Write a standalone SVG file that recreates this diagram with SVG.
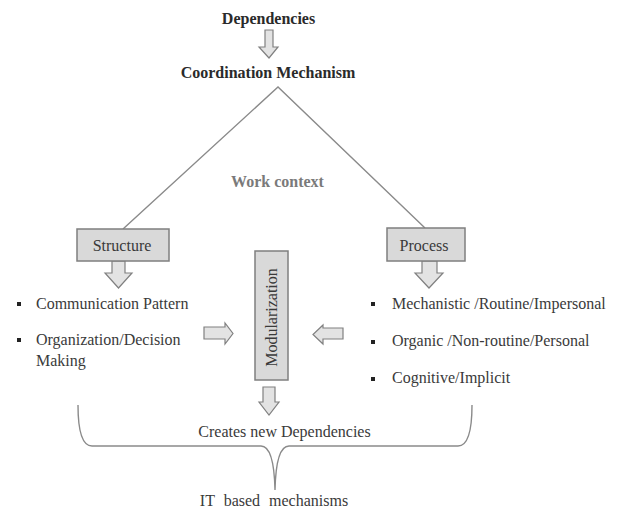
<svg xmlns="http://www.w3.org/2000/svg" width="617" height="510" viewBox="0 0 617 510">
  <style>
    text { font-family: "Liberation Serif", "Times New Roman", serif; font-size: 16px; fill: #3a3a3a; }
    .bold { font-weight: bold; fill: #2a2a2a; }
    .ctx { font-weight: bold; fill: #7a7a7a; }
    .box { fill: #d9d9d9; stroke: #7f7f7f; stroke-width: 1.5; }
    .arrow { fill: #e3e3e3; stroke: #808080; stroke-width: 1.2; stroke-linejoin: miter; }
    .line { fill: none; stroke: #8a8a8a; stroke-width: 1.4; }
    .bullet { fill: #222; }
  </style>
  <rect width="617" height="510" fill="#ffffff"/>

  <!-- connectors -->
  <g id="connectors">
    <path class="arrow" d="M265,30 H273 V47 H278 L269,58 L259,47 H265 Z"/>
    <polyline class="line" points="123,229 278,87 425,228"/>
    <path class="arrow" d="M112,261 H125 V273 H132 L118.5,288 L105,273 H112 Z"/>
    <path class="arrow" d="M422,261 H437 V273 H443 L429,288 L415,273 H422 Z"/>
    <path class="arrow" d="M204,327 H225 V323 L233,333.5 L225,344 V339 H204 Z"/>
    <path class="arrow" d="M343,328 V339 H323 V344 L313,334.5 L323,325 V328 Z"/>
    <path class="arrow" d="M263,387 H275 V402 H279 L269,415 L259,402 H263 Z"/>
    <path class="line" stroke="#9a9a9a" d="M78,405 Q78,446 92,446 L261,446 Q274,446 275,490 Q276,446 289,446 L458,446 Q472,446 472,405"/>
  </g>

  <g id="dependencies">
    <text class="bold" x="268.5" y="24" text-anchor="middle">Dependencies</text>
  </g>
  <g id="coordination">
    <text class="bold" x="268" y="78" text-anchor="middle">Coordination Mechanism</text>
  </g>
  <g id="work-context">
    <text class="ctx" x="277.5" y="187" text-anchor="middle">Work context</text>
  </g>

  <g id="structure">
    <rect class="box" x="77" y="229" width="92" height="32"/>
    <text x="122" y="251" text-anchor="middle">Structure</text>
  </g>
  <g id="process">
    <rect class="box" x="387" y="228" width="78" height="33"/>
    <text x="424" y="251" text-anchor="middle">Process</text>
  </g>

  <g id="structure-items">
    <rect class="bullet" x="17" y="302" width="4" height="4"/>
    <text x="36" y="309">Communication Pattern</text>
    <rect class="bullet" x="17" y="338" width="4" height="4"/>
    <text x="36" y="345">Organization/Decision</text>
    <text x="36" y="366">Making</text>
  </g>

  <g id="process-items">
    <rect class="bullet" x="371" y="302" width="4" height="4"/>
    <text x="392" y="309">Mechanistic /Routine/Impersonal</text>
    <rect class="bullet" x="371" y="340" width="4" height="4"/>
    <text x="392" y="346">Organic /Non-routine/Personal</text>
    <rect class="bullet" x="371" y="377" width="4" height="4"/>
    <text x="392" y="383">Cognitive/Implicit</text>
  </g>

  <g id="modularization">
    <rect class="box" x="255" y="251" width="33" height="129"/>
    <text x="271.5" y="323" text-anchor="middle" transform="rotate(-90 271.5 317.5)">Modularization</text>
  </g>

  <g id="new-dependencies">
    <text x="284.5" y="437" text-anchor="middle">Creates new Dependencies</text>
  </g>
  <g id="it-mechanisms">
    <text x="274" y="506" text-anchor="middle" font-size="19" word-spacing="5">IT based mechanisms</text>
  </g>
</svg>
